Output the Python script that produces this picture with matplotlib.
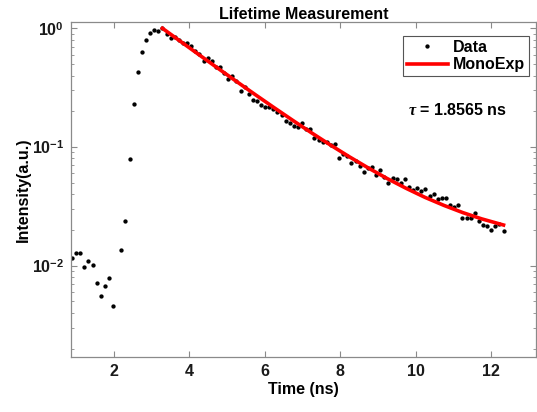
import matplotlib
matplotlib.use("Agg")
import matplotlib.pyplot as plt
import numpy as np

plt.rcParams['font.family'] = ['Liberation Sans', 'DejaVu Sans']
plt.rcParams['font.weight'] = 'bold'
plt.rcParams['mathtext.fontset'] = 'custom'
plt.rcParams['mathtext.rm'] = 'Liberation Sans:bold'
plt.rcParams['mathtext.bf'] = 'Liberation Sans:bold'
plt.rcParams['mathtext.it'] = 'Liberation Serif:italic'

# Decay data (time bins in ns, normalised counts)
time_ns = [0.886, 0.995, 1.104, 1.213, 1.322, 1.431, 1.540, 1.649, 1.758, 1.867,
           1.976, 2.085, 2.194, 2.303, 2.412, 2.521, 2.630, 2.739, 2.848, 2.957,
           3.066, 3.175, 3.284, 3.393, 3.502, 3.611, 3.720, 3.829, 3.938, 4.047,
           4.156, 4.265, 4.374, 4.483, 4.592, 4.701, 4.810, 4.919, 5.028, 5.137,
           5.246, 5.355, 5.464, 5.573, 5.682, 5.791, 5.900, 6.009, 6.118, 6.227,
           6.336, 6.445, 6.554, 6.663, 6.772, 6.881, 6.990, 7.099, 7.208, 7.317,
           7.426, 7.535, 7.644, 7.753, 7.862, 7.971, 8.080, 8.189, 8.298, 8.407,
           8.516, 8.625, 8.734, 8.843, 8.952, 9.061, 9.170, 9.279, 9.388, 9.497,
           9.606, 9.715, 9.824, 9.933, 10.042, 10.151, 10.260, 10.369, 10.478, 10.587,
           10.696, 10.805, 10.914, 11.023, 11.132, 11.241, 11.350, 11.459, 11.568, 11.677,
           11.786, 11.895, 12.004, 12.113, 12.222, 12.331]
intensity = [0.0115, 0.0129, 0.0128, 0.0097, 0.0109, 0.0102, 0.0071, 0.0056, 0.0068, 0.0078,
             0.0046, np.nan, 0.0136, 0.0239, 0.0789, 0.229, 0.431, 0.635, 0.792, 0.918,
             0.968, 0.949, 1.0, 0.895, 0.824, 0.85, 0.79, 0.75, 0.748, 0.710,
             0.648, 0.608, 0.534, 0.559, 0.528, 0.474, 0.469, 0.423, 0.372, 0.397,
             0.357, 0.297, 0.319, 0.280, 0.248, 0.246, 0.226, 0.216, 0.216, 0.208,
             0.199, 0.186, 0.164, 0.159, 0.149, 0.146, 0.159, 0.142, 0.141, 0.118,
             0.115, 0.111, 0.110, 0.104, 0.106, 0.0814, 0.0875, 0.0847, 0.0730, 0.0768,
             0.0697, 0.0621, 0.0665, 0.0676, 0.0582, 0.0642, 0.0559, 0.0502, 0.0549, 0.0536,
             0.0496, 0.0536, 0.0464, 0.0430, 0.0450, 0.0427, 0.0444, 0.0390, 0.0403, 0.0366,
             0.0375, 0.0375, 0.0326, 0.0313, 0.0327, 0.0252, 0.0250, 0.0250, 0.0277, 0.0240,
             0.0222, 0.0214, 0.0201, 0.0214, 0.0224, 0.0197]

# Mono-exponential fit curve
fit_t = [3.284, 3.75, 4.25, 4.75, 5.25, 5.75, 6.25, 6.75, 7.25, 7.75,
         8.25, 8.75, 9.25, 9.75, 10.25, 10.75, 11.25, 11.75, 12.331]
fit_y = [1.000, 0.7812, 0.6003, 0.4619, 0.3563, 0.2756, 0.2140, 0.1669, 0.1309, 0.1034,
         0.0824, 0.0664, 0.0541, 0.0448, 0.0376, 0.0322, 0.0280, 0.0248, 0.0220]
tau_label = r'$\tau$ = 1.8565 ns'

fig = plt.figure(figsize=(5.37, 4.12), dpi=100)
ax = fig.add_axes([0.1322, 0.1335, 0.8658, 0.8131])

ax.plot(time_ns, intensity, 'o', color='black', markersize=2.1, linestyle='none', label='Data')
ax.plot(fit_t, fit_y, '-', color='#ff0000', linewidth=2.6, label='MonoExp')

ax.set_yscale('log')
ax.set_xlim(0.859, 13.19)
ax.set_ylim(0.0017, 1.13)
ax.set_xticks([2, 4, 6, 8, 10, 12])
ax.set_yticks([0.01, 0.1, 1])
ax.set_yticklabels([r'$10^{-2}$', r'$10^{-1}$', r'$10^{0}$'])

for s in ax.spines.values():
    s.set_color('#8a8a8a')
    s.set_linewidth(0.9)
ax.tick_params(which='both', direction='in', top=True, right=True, color='#8a8a8a',
               labelsize=11.5, labelcolor='#1a1a1a')
ax.tick_params(which='major', length=4)
ax.tick_params(which='minor', length=2.2)
ax.tick_params(axis='x', pad=5)
ax.tick_params(axis='y', pad=5)

ax.set_title('Lifetime Measurement', fontsize=11.5, fontweight='bold', pad=2)
ax.set_xlabel('Time (ns)', fontsize=11.5, fontweight='bold', labelpad=2)
ax.set_ylabel('Intensity(a.u.)', fontsize=11.5, fontweight='bold', labelpad=0.5)

ax.text(9.8, 0.205, tau_label, fontsize=11.5, fontweight='bold', ha='left', va='center')

leg = ax.legend(loc='upper right', bbox_to_anchor=(0.985, 0.958), borderaxespad=0,
                fontsize=11.5, numpoints=1, handlelength=2.6, handletextpad=0.3,
                labelspacing=0.15, borderpad=0.25, fancybox=False, framealpha=1)
leg.get_frame().set_edgecolor('#555555')
leg.get_frame().set_linewidth(0.8)

fig.savefig('out.png', dpi=100)
